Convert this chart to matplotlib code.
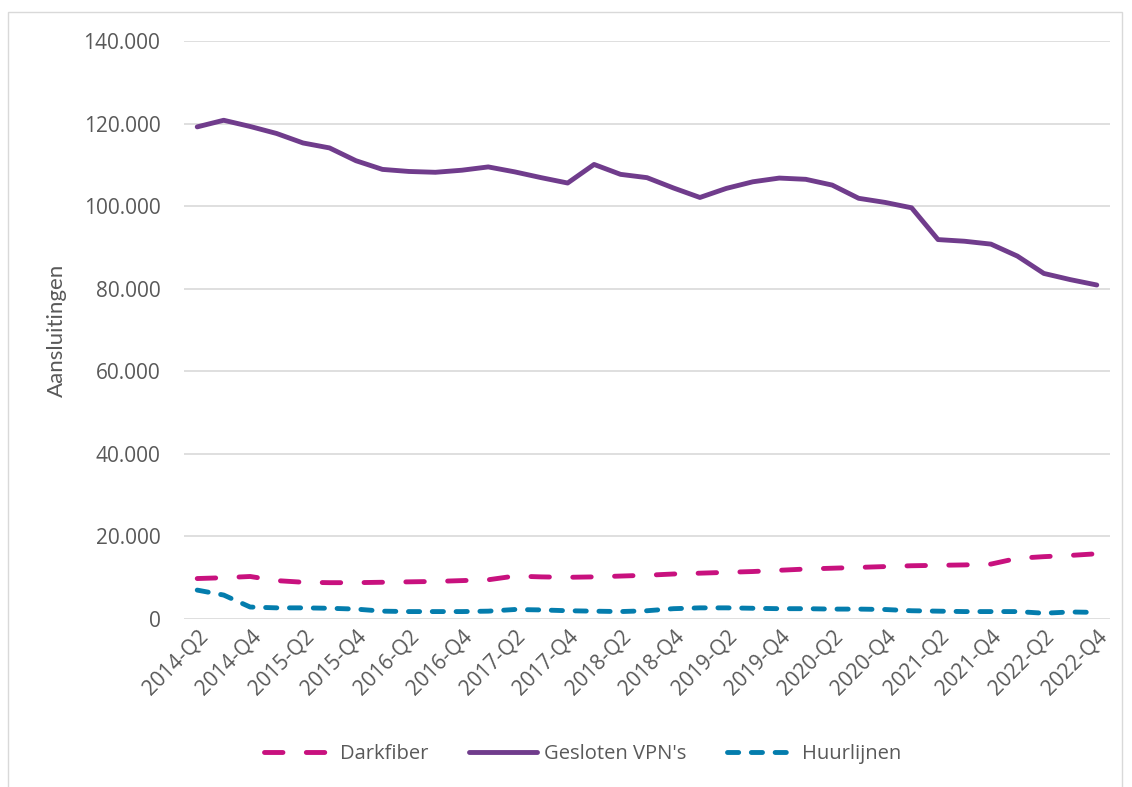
import matplotlib
matplotlib.use("Agg")
import matplotlib.pyplot as plt
from matplotlib.patches import Rectangle
from matplotlib.ticker import FuncFormatter

# kwartalen 2014-Q2 t/m 2022-Q4
quarters = []
for year in range(2014, 2023):
    for q in range(1, 5):
        if year == 2014 and q == 1:
            continue
        quarters.append(f"{year}-Q{q}")

darkfiber = [9800, 10000, 10300, 9300, 8900, 8800, 8800, 8900, 9000, 9100,
             9300, 9500, 10400, 10200, 10100, 10200, 10400, 10600, 10900, 11100,
             11300, 11500, 11800, 12100, 12300, 12500, 12700, 12900, 13000, 13100,
             13300, 14700, 15100, 15400, 15800]
vpn = [119200, 120800, 119300, 117600, 115300, 114100, 111000, 108900, 108400, 108200,
       108700, 109500, 108300, 106900, 105600, 110100, 107700, 106900, 104400, 102100,
       104300, 105900, 106800, 106500, 105100, 101900, 100900, 99600, 91900, 91500,
       90800, 87900, 83700, 82200, 80900]
huurlijnen = [7000, 5800, 2900, 2700, 2700, 2600, 2400, 1900, 1800, 1800,
              1800, 1900, 2300, 2200, 2000, 1900, 1800, 2000, 2500, 2700,
              2700, 2600, 2500, 2500, 2400, 2400, 2300, 2000, 1900, 1800,
              1800, 1800, 1400, 1700, 1600]

c_dark = "#C8117E"
c_vpn = "#703C8C"
c_huur = "#047DAD"
grey = "#595959"

plt.rcParams["font.family"] = ["Open Sans", "DejaVu Sans"]

fig = plt.figure(figsize=(11.32, 7.87), dpi=100)
ax = fig.add_axes([184 / 1132, 1 - 619 / 787, 926 / 1132, 578 / 787])

x = range(len(quarters))
lw = 3.5
l1, = ax.plot(x, darkfiber, color=c_dark, lw=lw, dash_capstyle="round", label="Darkfiber")
l1.set_dashes((3.8, 4.8))
ax.plot(x, vpn, color=c_vpn, lw=lw, solid_capstyle="round", label="Gesloten VPN's")
l3, = ax.plot(x, huurlijnen, color=c_huur, lw=lw, dash_capstyle="round", label="Huurlijnen")
l3.set_dashes((2.3, 2.6))

ax.set_xlim(-0.5, len(quarters) - 0.5)
ax.set_ylim(0, 140000)
ax.set_yticks(range(0, 140001, 20000))
ax.yaxis.set_major_formatter(FuncFormatter(lambda v, p: f"{int(v):,}".replace(",", ".")))
ax.set_xticks(list(x)[::2])
ax.set_xticklabels(quarters[::2], rotation=45, ha="right", rotation_mode="anchor")

ax.grid(axis="y", color="#D9D9D9", lw=1.2)
ax.set_axisbelow(True)
for s in ax.spines.values():
    s.set_visible(False)
ax.tick_params(length=0, colors=grey, labelsize=15)
ax.tick_params(axis="y", pad=17)
ax.tick_params(axis="x", pad=5)

ax.set_ylabel("Aansluitingen", fontsize=16, color=grey, family=["Lato", "DejaVu Sans"], labelpad=12)

leg = fig.legend(*ax.get_legend_handles_labels(), loc="center",
                 bbox_to_anchor=(583 / 1132, 1 - 754 / 787), ncol=3, frameon=False,
                 handlelength=3.4, columnspacing=2.0, handletextpad=0.35,
                 prop={"size": 14.5})
for t in leg.get_texts():
    t.set_color(grey)

fig.patches.append(Rectangle((8 / 1132, -0.01), 1114 / 1132, 1 - 12 / 787 + 0.01,
                             transform=fig.transFigure, fill=False, ec="#D9D9D9", lw=1))

fig.savefig("out.png", dpi=100)
